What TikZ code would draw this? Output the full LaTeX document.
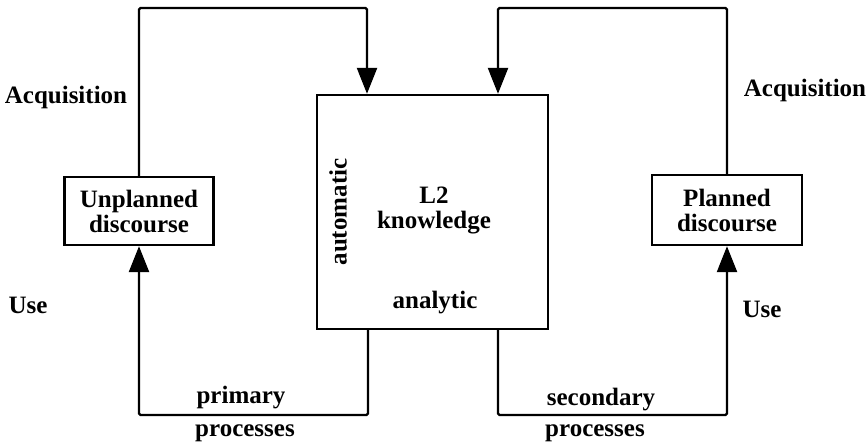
\documentclass[tikz,border=0pt]{standalone}
\usepackage{fontspec}
\setmainfont{Liberation Serif}
\usetikzlibrary{arrows.meta}
\begin{document}
\begin{tikzpicture}[x=1pt,y=-1pt,
  txt/.style={font=\fontsize{25}{25}\selectfont\bfseries, inner sep=0pt},
  boxed/.style={draw, line width=2.4pt, inner sep=0pt, align=center,
    font=\fontsize{25}{25}\selectfont\bfseries},
  link/.style={line width=2.4pt, rounded corners=1.5pt,
    -{Triangle[width=20pt,length=26pt]}}]
\useasboundingbox (0,0) rectangle (868,443);

% central knowledge store
\node[boxed, minimum width=231pt, minimum height=234pt] (know) at (432.5,212) {};
\node[txt, align=center] (l2) at (434,210) {L2\\knowledge};
\node[txt, rotate=90] (auto) at (338,212) {automatic};
\node[txt] (ana) at (435,303) {analytic};

% discourse types
\node[boxed, minimum width=149pt, minimum height=68pt] (unp) at (139,211) {Unplanned\\discourse};
\node[boxed, minimum width=150pt, minimum height=70pt] (pl) at (727,210) {Planned\\discourse};

% routing corners
\coordinate (tl) at (367,8);
\coordinate (tr) at (498,8);
\coordinate (bl) at (368,415);
\coordinate (br) at (498,415);

% acquisition loops
\draw[link] (unp.north) |- (tl) -- (tl |- know.north);
\draw[link] (pl.north) |- (tr) -- (tr |- know.north);

% use loops
\draw[link] (bl |- know.south) -- (bl) -| (unp.south);
\draw[link] (br |- know.south) -- (br) -| (pl.south);

% labels
\node[txt] (acqL) at (66,97) {Acquisition};
\node[txt] (acqR) at (805,90) {Acquisition};
\node[txt] (useL) at (28,305) {Use};
\node[txt] (useR) at (762,309) {Use};
\node[txt] (prim) at (241,398) {primary};
\node[txt] (procL) at (245,433) {processes};
\node[txt] (sec) at (601,400) {secondary};
\node[txt] (procR) at (595,433) {processes};
\end{tikzpicture}
\end{document}
